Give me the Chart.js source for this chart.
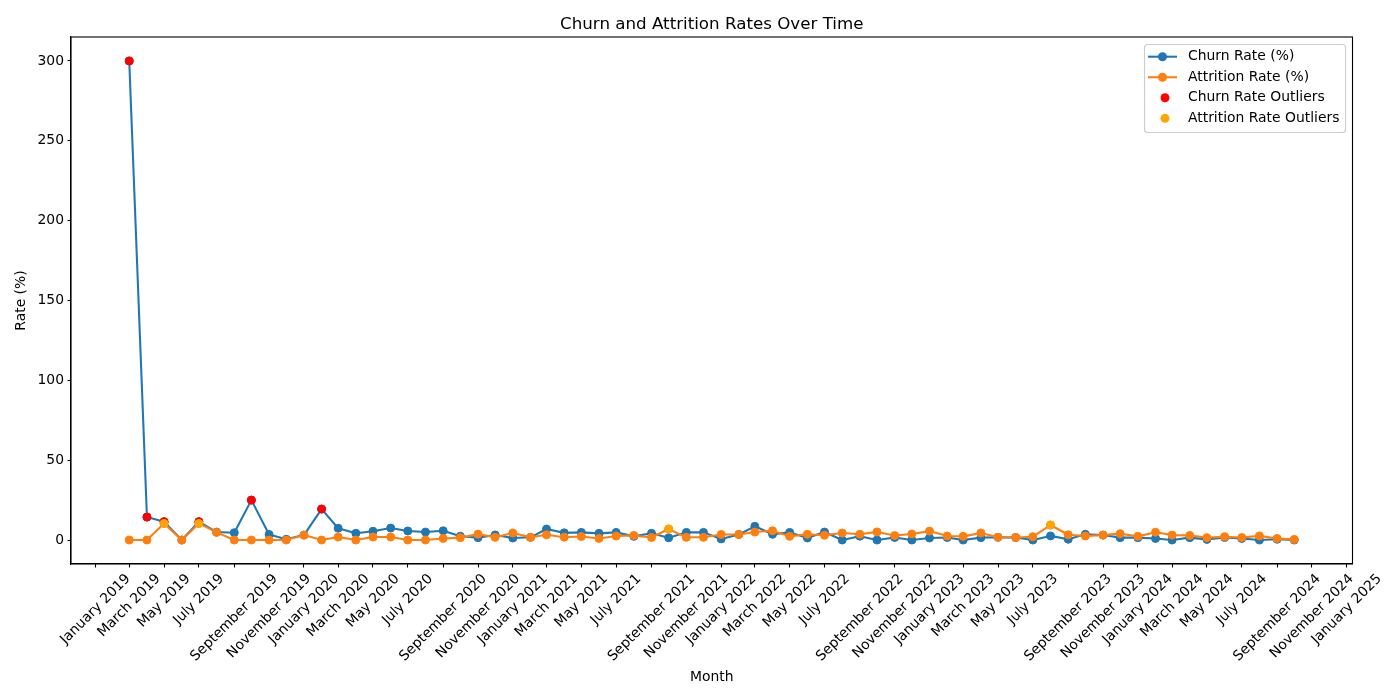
<!DOCTYPE html>
<html>
<head>
<meta charset="utf-8">
<title>Churn and Attrition Rates Over Time</title>
<script src="https://cdn.jsdelivr.net/npm/chart.js@4.4.0/dist/chart.umd.min.js"></script>
<style>
    html, body { margin: 0; padding: 0; background: #fff; }
    canvas { display: block; }
</style>
</head>
<body>
<canvas id="rateChart" width="1400" height="700"></canvas>
<script>
// Monthly observations
const months = [
    '2019-03', '2019-04', '2019-05', '2019-06', '2019-07', '2019-08', '2019-09', '2019-10', '2019-11', '2019-12',
    '2020-01', '2020-02', '2020-03', '2020-04', '2020-05', '2020-06', '2020-07', '2020-08', '2020-09', '2020-10', '2020-11', '2020-12',
    '2021-01', '2021-02', '2021-03', '2021-04', '2021-05', '2021-06', '2021-07', '2021-08', '2021-09', '2021-10', '2021-11', '2021-12',
    '2022-01', '2022-02', '2022-03', '2022-04', '2022-05', '2022-06', '2022-07', '2022-08', '2022-09', '2022-10', '2022-11', '2022-12',
    '2023-01', '2023-02', '2023-03', '2023-04', '2023-05', '2023-06', '2023-07', '2023-08', '2023-09', '2023-10', '2023-11', '2023-12',
    '2024-01', '2024-02', '2024-03', '2024-04', '2024-05', '2024-06', '2024-07', '2024-08', '2024-09', '2024-10'
];

const churnRate = [
    300, 14.4, 11.5, 0, 11.5, 5.0, 4.6, 25, 3.5, 0.5,
    3.1, 19.4, 7.4, 4.2, 5.5, 7.5, 5.7, 5.0, 5.8, 2.4, 1.5, 3.2,
    1.3, 1.7, 6.9, 4.5, 4.8, 4.2, 4.8, 2.3, 4.2, 1.4, 4.8, 4.8,
    0.7, 3.5, 8.6, 3.6, 4.8, 1.3, 5.0, 0, 2.4, 0, 1.6, 0,
    1.3, 1.6, 0, 1.5, 1.7, 1.6, 0, 2.6, 0.5, 3.6, 3.1, 1.5,
    1.5, 1.0, 0, 1.5, 0.4, 1.6, 1.0, 0, 0.5, 0
];

const attritionRate = [
    0, 0, 10.4, 0, 10.4, 4.8, 0, 0, 0, 0,
    3.1, 0, 1.9, 0, 1.9, 1.9, 0, 0, 1.0, 1.5, 3.7, 1.7,
    4.4, 1.7, 3.3, 1.8, 2.2, 1.0, 2.5, 2.9, 1.6, 6.9, 1.7, 1.7,
    3.5, 3.5, 5.0, 5.8, 2.3, 3.6, 3.0, 4.4, 3.6, 5.1, 2.8, 3.8,
    5.6, 2.5, 2.3, 4.4, 1.7, 1.6, 2.1, 9.4, 3.3, 2.5, 3.1, 4.0,
    2.3, 4.9, 3.1, 2.9, 1.5, 2.1, 1.6, 2.6, 1.0, 0.4
];

// positions (into months) flagged as outliers
const churnOutlierIdx = [0, 1, 2, 4, 7, 11];
const attritionOutlierIdx = [2, 4, 31, 53];

const xTickLabels = [
    'January 2019', 'March 2019', 'May 2019', 'July 2019', 'September 2019', 'November 2019',
    'January 2020', 'March 2020', 'May 2020', 'July 2020', 'September 2020', 'November 2020',
    'January 2021', 'March 2021', 'May 2021', 'July 2021', 'September 2021', 'November 2021',
    'January 2022', 'March 2022', 'May 2022', 'July 2022', 'September 2022', 'November 2022',
    'January 2023', 'March 2023', 'May 2023', 'July 2023', 'September 2023', 'November 2023',
    'January 2024', 'March 2024', 'May 2024', 'July 2024', 'September 2024', 'November 2024',
    'January 2025'
];
const yTicks = [0, 50, 100, 150, 200, 250, 300];

const FONT = 'DejaVu Sans';
const MONTH_NAMES = ['January', 'February', 'March', 'April', 'May', 'June', 'July',
    'August', 'September', 'October', 'November', 'December'];

// days since 2019-01-01, so the x axis behaves like a date axis
function dayOf(year, month) {
    return (Date.UTC(year, month, 1) - Date.UTC(2019, 0, 1)) / 86400000;
}
function dayOfMonthStr(s) {
    const [y, m] = s.split('-').map(Number);
    return dayOf(y, m - 1);
}
function dayOfLabel(label) {
    const [name, y] = label.split(' ');
    return dayOf(Number(y), MONTH_NAMES.indexOf(name));
}

const xValues = months.map(dayOfMonthStr);
const xTickValues = xTickLabels.map(dayOfLabel);
const span = xValues[xValues.length - 1] - xValues[0];
const xMin = xValues[0] - span * 0.05;
const xMax = xValues[xValues.length - 1] + span * 0.05;

const COLORS = {
    churn: '#1f77b4',
    attrition: '#ff7f0e',
    churnOut: '#ff0000',
    attritionOut: '#ffa500'
};

const legendItems = [
    { text: 'Churn Rate (%)', color: COLORS.churn, line: true },
    { text: 'Attrition Rate (%)', color: COLORS.attrition, line: true },
    { text: 'Churn Rate Outliers', color: COLORS.churnOut, line: false },
    { text: 'Attrition Rate Outliers', color: COLORS.attritionOut, line: false }
];

// Title, top/right spines, rotated x labels and the in-axes legend
const decorations = {
    id: 'decorations',
    afterDraw(chart) {
        const { ctx, chartArea } = chart;
        const xScale = chart.scales.x;
        ctx.save();

        // frame
        ctx.strokeStyle = '#000';
        ctx.lineWidth = 1.1;
        ctx.strokeRect(chartArea.left, chartArea.top,
            chartArea.right - chartArea.left, chartArea.bottom - chartArea.top);

        // title
        ctx.fillStyle = '#000';
        ctx.font = `16.7px "${FONT}"`;
        ctx.textAlign = 'center';
        ctx.textBaseline = 'alphabetic';
        ctx.fillText('Churn and Attrition Rates Over Time',
            (chartArea.left + chartArea.right) / 2, chartArea.top - 8.3);

        // x tick labels, rotated 45deg and centred under the tick
        ctx.font = `13.9px "${FONT}"`;
        ctx.textBaseline = 'middle';
        const h = 16;
        xTickValues.forEach((v, i) => {
            const px = xScale.getPixelForValue(v);
            const w = ctx.measureText(xTickLabels[i]).width;
            const box = (w + h) * Math.SQRT1_2;
            const cy = chartArea.bottom + 7 + box / 2;
            ctx.save();
            ctx.translate(px, cy);
            ctx.rotate(-Math.PI / 4);
            ctx.fillText(xTickLabels[i], 0, 0);
            ctx.restore();
        });

        // legend
        const lx = 1144, ly = 44, lw = 201, lh = 88;
        ctx.beginPath();
        ctx.roundRect(lx + 0.5, ly + 0.5, lw, lh, 3);
        ctx.fillStyle = 'rgba(255,255,255,0.8)';
        ctx.fill();
        ctx.strokeStyle = '#cccccc';
        ctx.lineWidth = 1.1;
        ctx.stroke();

        ctx.textAlign = 'left';
        legendItems.forEach((item, i) => {
            const cy = 56.7 + i * 20.55;
            ctx.fillStyle = item.color;
            ctx.strokeStyle = item.color;
            if (item.line) {
                ctx.lineWidth = 2.08;
                ctx.beginPath();
                ctx.moveTo(1148, cy);
                ctx.lineTo(1177, cy);
                ctx.stroke();
            }
            ctx.beginPath();
            ctx.arc(item.line ? 1162.5 : 1165, cy, 4.5, 0, Math.PI * 2);
            ctx.fill();
            ctx.fillStyle = '#000';
            ctx.fillText(item.text, 1188, cy);
        });

        ctx.restore();
    }
};

function lineSet(label, values, color, order) {
    return {
        label: label,
        data: values.map((v, i) => ({ x: xValues[i], y: v })),
        borderColor: color,
        backgroundColor: color,
        borderWidth: 2.08,
        borderJoinStyle: 'round',
        pointRadius: 4,
        pointBorderWidth: 1,
        pointBackgroundColor: color,
        pointBorderColor: color,
        fill: false,
        tension: 0,
        order: order
    };
}

function outlierSet(label, idx, values, color, order) {
    return {
        type: 'scatter',
        label: label,
        data: idx.map(i => ({ x: xValues[i], y: values[i] })),
        backgroundColor: color,
        borderColor: color,
        pointRadius: 4,
        pointBorderWidth: 1,
        showLine: false,
        order: order
    };
}

const axisFont = { family: FONT, size: 13.9 };

new Chart(document.getElementById('rateChart').getContext('2d'), {
    type: 'line',
    data: {
        datasets: [
            lineSet('Churn Rate (%)', churnRate, COLORS.churn, 4),
            lineSet('Attrition Rate (%)', attritionRate, COLORS.attrition, 3),
            outlierSet('Churn Rate Outliers', churnOutlierIdx, churnRate, COLORS.churnOut, 2),
            outlierSet('Attrition Rate Outliers', attritionOutlierIdx, attritionRate, COLORS.attritionOut, 1)
        ]
    },
    options: {
        responsive: false,
        animation: false,
        layout: { padding: { left: 0, top: 37, right: 47.5, bottom: 0 } },
        plugins: {
            legend: { display: false },
            title: { display: false },
            tooltip: { enabled: false }
        },
        scales: {
            x: {
                type: 'linear',
                min: xMin,
                max: xMax,
                afterBuildTicks: (scale) => { scale.ticks = xTickValues.map(v => ({ value: v })); },
                afterFit: (scale) => { scale.height = 136; },
                ticks: { display: false },
                grid: { drawOnChartArea: false, drawTicks: true, tickLength: 3.5, tickWidth: 1.1, tickColor: '#000' },
                border: { color: '#000', width: 1.1 },
                title: {
                    display: true,
                    text: 'Month',
                    color: '#000',
                    font: axisFont,
                    padding: { top: 0, bottom: 14.7 }
                }
            },
            y: {
                type: 'linear',
                min: -15,
                max: 315,
                afterBuildTicks: (scale) => { scale.ticks = yTicks.map(v => ({ value: v })); },
                afterFit: (scale) => { scale.width = 71; },
                ticks: { color: '#000', font: axisFont, padding: 3.5, autoSkip: false },
                grid: { drawOnChartArea: false, drawTicks: true, tickLength: 3.5, tickWidth: 1.1, tickColor: '#000' },
                border: { color: '#000', width: 1.1 },
                title: {
                    display: true,
                    text: 'Rate (%)',
                    color: '#000',
                    font: axisFont,
                    padding: { top: 12.7, bottom: 0 }
                }
            }
        }
    },
    plugins: [decorations]
});
</script>
</body>
</html>
